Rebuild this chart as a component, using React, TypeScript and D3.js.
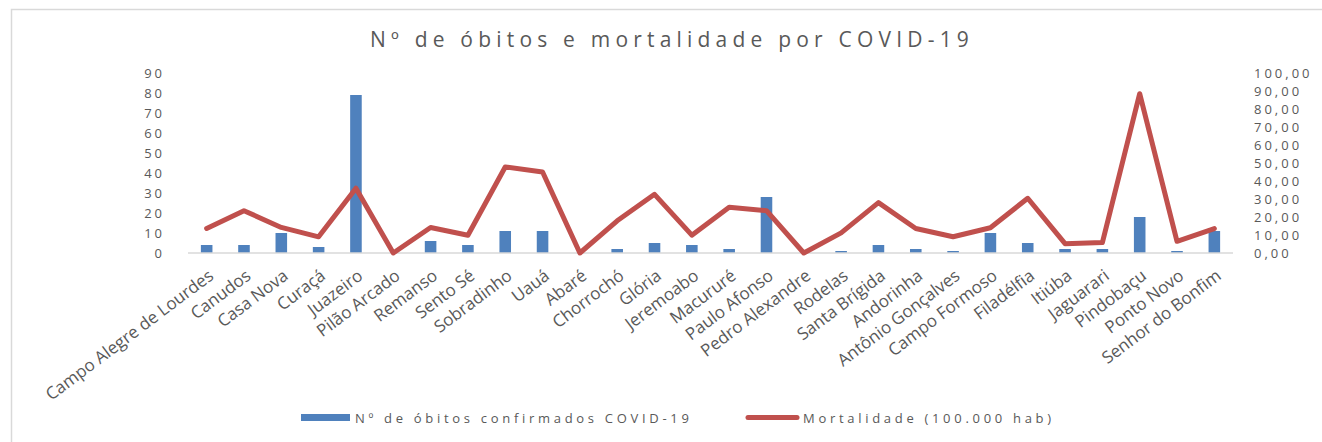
import React from "react";
import * as d3 from "d3";

const categories = [
  "Campo Alegre de Lourdes", "Canudos", "Casa Nova", "Curaçá", "Juazeiro", "Pilão Arcado",
  "Remanso", "Sento Sé", "Sobradinho", "Uauá", "Abaré", "Chorrochó", "Glória", "Jeremoabo",
  "Macururé", "Paulo Afonso", "Pedro Alexandre", "Rodelas", "Santa Brígida", "Andorinha",
  "Antônio Gonçalves", "Campo Formoso", "Filadélfia", "Itiúba", "Jaguarari", "Pindobaçu",
  "Ponto Novo", "Senhor do Bonfim",
];
const obitos = [4, 4, 10, 3, 79, 0, 6, 4, 11, 11, 0, 2, 5, 4, 2, 28, 0, 1, 4, 2, 1, 10, 5, 2, 2, 18, 1, 11];
const mortalidade = [13.6, 23.5, 14.2, 9.0, 36.0, 0, 14.2, 9.9, 47.8, 45.0, 0, 17.9, 32.6, 9.9, 25.4, 23.5, 0, 11.2, 28.0, 13.6, 9.0, 14.0, 30.4, 5.2, 5.8, 88.5, 6.5, 13.6];
const leftTicks = [0, 10, 20, 30, 40, 50, 60, 70, 80, 90];
const rightTicks = [0, 10, 20, 30, 40, 50, 60, 70, 80, 90, 100];

const title = "Nº de óbitos e mortalidade por COVID-19";
const barLegend = "Nº de óbitos confirmados COVID-19";
const lineLegend = "Mortalidade (100.000 hab)";

const W = 1322, H = 442;
const plot = { left: 188, right: 1233, top: 73, bottom: 253 };
const BAR = "#4f81bd", LINE = "#c0504d", TXT = "#595959", GRID = "#d9d9d9";
const FONT = "'Open Sans', 'DejaVu Sans', sans-serif";

export default function App() {
  const x = d3.scaleBand<string>().domain(categories).range([plot.left, plot.right]).padding(0);
  const yL = d3.scaleLinear().domain([0, 90]).range([plot.bottom, plot.top]);
  const yR = d3.scaleLinear().domain([0, 100]).range([plot.bottom, plot.top]);
  const bw = x.bandwidth() * 0.31;
  const cx = (c: string) => (x(c) as number) + x.bandwidth() / 2;
  const line = d3.line<number>()
    .x((_, i) => cx(categories[i]))
    .y((d) => yR(d));

  return (
    <svg width={W} height={H} style={{ position: "absolute", left: 0, top: 0, background: "#fff" }} fontFamily={FONT}>
      <rect x={11.5} y={9.5} width={W + 20} height={H + 20} fill="#fff" stroke={GRID} strokeWidth={1.5} />
      <text x={672} y={47} textAnchor="middle" fontSize={21} letterSpacing={5.2} fill={TXT}>{title}</text>

      {leftTicks.map((t) => (
        <text key={"l" + t} x={165} y={yL(t)} dy="0.35em" textAnchor="end" fontSize={13} letterSpacing={3} fill={TXT}>{t}</text>
      ))}
      {rightTicks.map((t) => (
        <text key={"r" + t} x={1254} y={yR(t)} dy="0.35em" textAnchor="start" fontSize={13} letterSpacing={3} fill={TXT}>{d3.format(".2f")(t).replace(".", ",")}</text>
      ))}

      {categories.map((c, i) => (
        <rect key={"b" + c} x={cx(c) - bw / 2} y={yL(obitos[i])} width={bw} height={plot.bottom - yL(obitos[i])} fill={BAR} />
      ))}
      <line x1={plot.left} x2={plot.right} y1={plot.bottom} y2={plot.bottom} stroke={GRID} strokeWidth={1.5} />
      <path d={line(mortalidade) || ""} fill="none" stroke={LINE} strokeWidth={5} strokeLinejoin="round" strokeLinecap="round" />

      {categories.map((c) => (
        <text key={"x" + c} transform={`translate(${cx(c) + 8},${278}) rotate(-37)`} textAnchor="end" fontSize={17} fill={TXT}>{c}</text>
      ))}

      <rect x={301} y={414} width={49} height={7} fill={BAR} />
      <text x={355} y={418} dy="0.35em" fontSize={13} letterSpacing={3.7} fill={TXT}>{barLegend}</text>
      <line x1={748} x2={797} y1={417.5} y2={417.5} stroke={LINE} strokeWidth={5} strokeLinecap="round" />
      <text x={803} y={418} dy="0.35em" fontSize={13} letterSpacing={3.7} fill={TXT}>{lineLegend}</text>
    </svg>
  );
}
